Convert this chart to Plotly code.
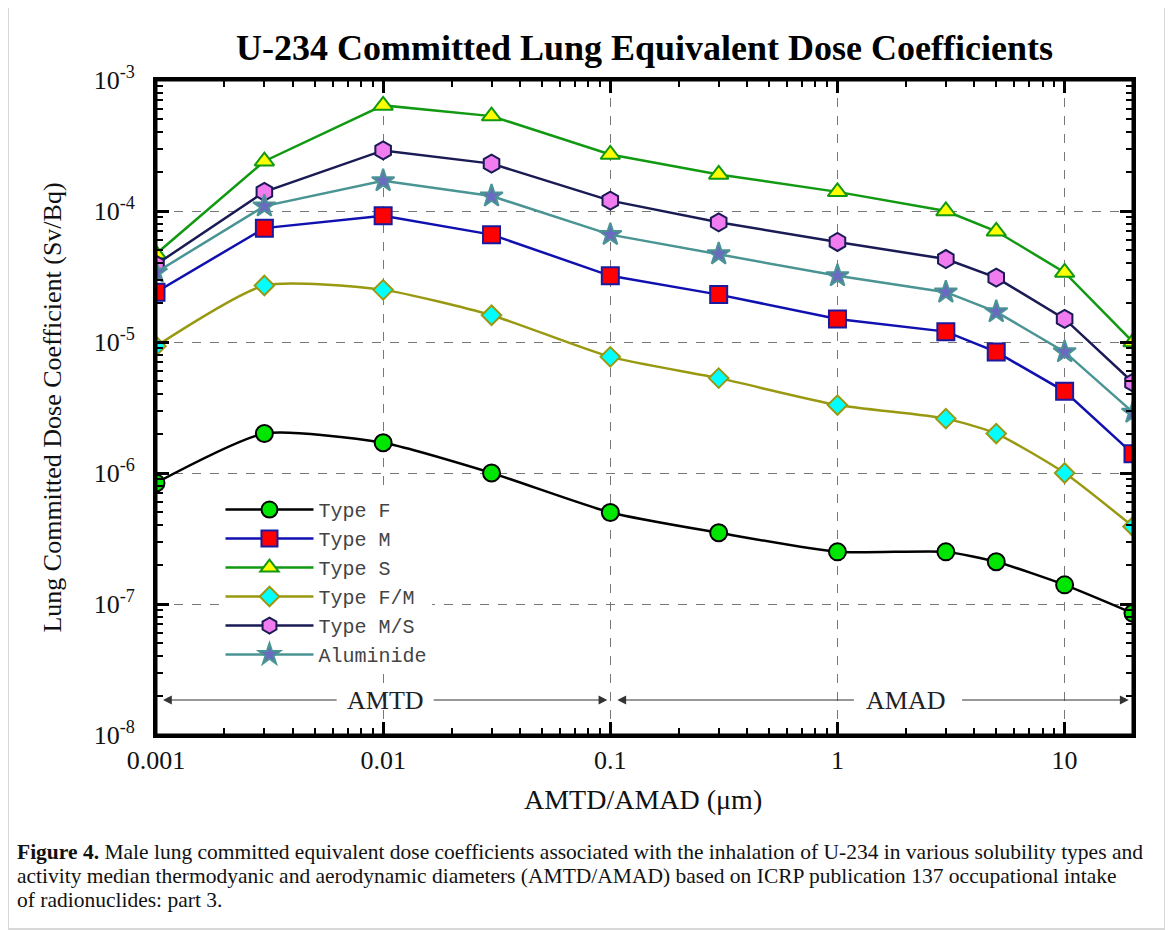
import numpy as np
import plotly.graph_objects as go

# ---------------- data ----------------
diameters = [0.001, 0.003, 0.01, 0.03, 0.1, 0.3, 1, 3, 5, 10, 20]

type_f = [8.4e-7, 2.0e-6, 1.7e-6, 1.0e-6, 5.0e-7, 3.5e-7, 2.5e-7, 2.5e-7, 2.1e-7, 1.4e-7, 8.5e-8]
type_m = [2.4e-5, 7.4e-5, 9.2e-5, 6.6e-5, 3.2e-5, 2.3e-5, 1.5e-5, 1.2e-5, 8.4e-6, 4.2e-6, 1.4e-6]
type_s = [4.7e-5, 2.4e-4, 6.4e-4, 5.3e-4, 2.7e-4, 1.9e-4, 1.4e-4, 1.0e-4, 7.0e-5, 3.4e-5, 1.0e-5]
type_fm = [9.3e-6, 2.7e-5, 2.5e-5, 1.6e-5, 7.7e-6, 5.3e-6, 3.3e-6, 2.6e-6, 2.0e-6, 1.0e-6, 3.9e-7]
type_ms = [3.9e-5, 1.4e-4, 2.9e-4, 2.3e-4, 1.2e-4, 8.2e-5, 5.8e-5, 4.3e-5, 3.1e-5, 1.5e-5, 4.9e-6]
aluminide = [3.4e-5, 1.09e-4, 1.7e-4, 1.3e-4, 6.6e-5, 4.7e-5, 3.2e-5, 2.4e-5, 1.7e-5, 8.4e-6, 2.9e-6]

x_tick_vals = [0.001, 0.01, 0.1, 1, 10]
x_tick_text = ["0.001", "0.01", "0.1", "1", "10"]
y_tick_vals = [1e-8, 1e-7, 1e-6, 1e-5, 1e-4, 1e-3]
y_tick_text = ["10<sup>-8</sup>", "10<sup>-7</sup>", "10<sup>-6</sup>",
               "10<sup>-5</sup>", "10<sup>-4</sup>", "10<sup>-3</sup>"]

title_text = "U-234 Committed Lung Equivalent Dose Coefficients"
x_title = "AMTD/AMAD (μm)"
y_title = "Lung Committed Dose Coefficient (Sv/Bq)"
caption_lines = [
    "<b>Figure 4.</b> Male lung committed equivalent dose coefficients associated with the inhalation of U-234 in various solubility types and",
    "activity median thermodyanic and aerodynamic diameters (AMTD/AMAD) based on ICRP publication 137 occupational intake",
    "of radionuclides: part 3.",
]

# ---------------- styling ----------------
series = [
    ("Type F", type_f, "black", "circle", "#00e600", "black", 17, "spline"),
    ("Type M", type_m, "#1010b0", "square", "#ff0000", "#1a1aa0", 17, "linear"),
    ("Type S", type_s, "#119911", "triangle-up", "#ffff00", "#119911", 17, "linear"),
    ("Type F/M", type_fm, "#999911", "diamond", "#00ffff", "#999911", 15, "spline"),
    ("Type M/S", type_ms, "#1a1a55", "hexagon", "#f07cf0", "#1a1a55", 18, "linear"),
    ("Aluminide", aluminide, "#4a9494", "star", "#6a6ac0", "#4a9494", 17, "linear"),
]

fig = go.Figure()
for name, vals, lc, sym, fill, edge, size, shape in series:
    fig.add_trace(go.Scatter(
        x=diameters, y=vals, name=name, mode="lines+markers",
        line=dict(color=lc, width=2.5, shape=shape, smoothing=0.6),
        marker=dict(symbol=sym, size=size, color=fill, line=dict(color=edge, width=2)),
    ))

serif = "Liberation Serif"
pad = "\u00a0\u00a0"

axis_common = dict(
    type="log", showline=True, linecolor="black", linewidth=3, mirror="allticks",
    ticks="inside", ticklen=13, tickwidth=2.5, tickcolor="black",
    showgrid=True, gridcolor="#777777", griddash="dash", gridwidth=1.2,
    zeroline=False,
    tickfont=dict(family=serif, size=26, color="#111111"),
    minor=dict(dtick="D1", ticks="inside", ticklen=7, tickwidth=2, tickcolor="black",
               showgrid=False),
)

fig.update_xaxes(range=[np.log10(0.001), np.log10(20)], tickvals=x_tick_vals,
                 ticktext=x_tick_text, **axis_common)
fig.update_yaxes(range=[-8, -3], tickvals=y_tick_vals,
                 ticktext=[t + pad for t in y_tick_text], **axis_common)

annotations = [
    dict(text=f"<b>{title_text}</b>", x=0.4995, y=1.049, xref="paper", yref="paper",
         xanchor="center", yanchor="middle",
         showarrow=False, font=dict(family=serif, size=36, color="black")),
    dict(text=x_title, x=0.4985, y=-0.099, xref="paper", yref="paper", showarrow=False,
         xanchor="center", yanchor="middle",
         font=dict(family=serif, size=28, color="#111111")),
    dict(text=y_title, x=-0.1064, y=0.5, xref="paper", yref="paper", showarrow=False,
         xanchor="center", yanchor="middle",
         textangle=-90, font=dict(family=serif, size=26, color="#111111")),
]
for i, line in enumerate(caption_lines):
    annotations.append(dict(text=line, x=(15 - 156) / 977, y=(735 - (852 + 24 * i)) / 655,
                            xref="paper", yref="paper", xanchor="left", yanchor="middle",
                            align="left", showarrow=False,
                            font=dict(family=serif, size=21.5, color="#111111")))

# AMTD / AMAD range arrows
arrow_y = np.log10(1.85e-8)
arrows = [(-2.969, -2.198), (-1.013, -1.784), (-0.969, 0.079), (1.282, 0.542)]
for head, tail in arrows:
    annotations.append(dict(x=head, y=arrow_y, ax=tail, ay=arrow_y, xref="x", yref="y",
                            axref="x", ayref="y", text="", showarrow=True, arrowhead=2,
                            arrowsize=1.6, arrowwidth=1.1, arrowcolor="#333333"))
annotations.append(dict(text="AMTD", x=np.log10(0.0102), y=arrow_y, xref="x", yref="y",
                        xanchor="center", yanchor="middle",
                        showarrow=False, font=dict(family=serif, size=26, color="#222222")))
annotations.append(dict(text="AMAD", x=np.log10(2.0), y=arrow_y, xref="x", yref="y",
                        xanchor="center", yanchor="middle",
                        showarrow=False, font=dict(family=serif, size=26, color="#222222")))

shapes = [
    dict(type="rect", xref="paper", yref="paper",
         x0=(8 - 156) / 977, x1=(1165 - 156) / 977,
         y0=(735 - 929) / 655, y1=(735 - 6) / 655,
         line=dict(color="#cccccc", width=1.5), fillcolor="rgba(0,0,0,0)", layer="below"),
    # plot frame
    dict(type="rect", xref="paper", yref="paper", x0=0, x1=1, y0=0, y1=1,
         line=dict(color="black", width=3), fillcolor="rgba(0,0,0,0)", layer="above"),
]

# the page body adds an 8px offset; compensate so the plot area sits at 156..1133 x 80..735
fig.update_layout(
    width=1173, height=930,
    margin=dict(l=148, r=48, t=72, b=203),
    paper_bgcolor="white", plot_bgcolor="white",
    showlegend=True,
    legend=dict(x=0.066, y=0.374, xanchor="left", yanchor="top", bgcolor="white",
                borderwidth=0, font=dict(family="Liberation Mono", size=20, color="#444444"),
                tracegroupgap=0, itemwidth=88),
    annotations=annotations,
    shapes=shapes,
)

fig.write_html("out.html")
